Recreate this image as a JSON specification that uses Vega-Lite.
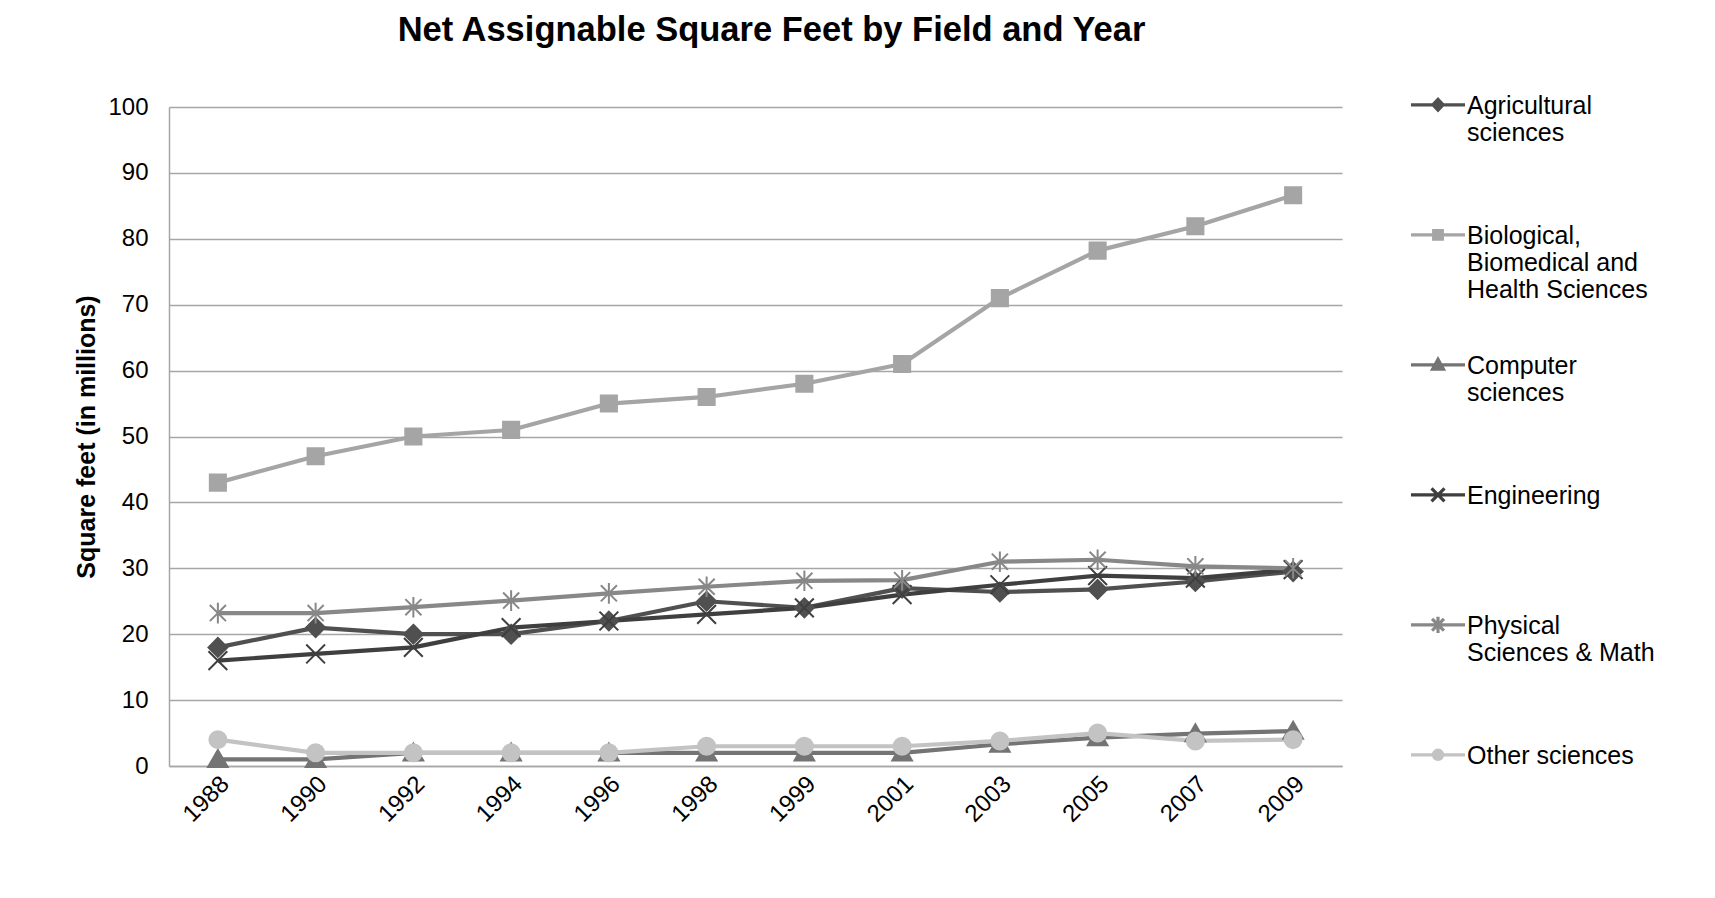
{
  "$schema": "https://vega.github.io/schema/vega-lite/v6.json",
  "autosize": "none",
  "padding": {"left": 169, "top": 107, "right": 373, "bottom": 132},
  "width": 1173,
  "height": 659,
  "background": "white",
  "config": {
    "font": "Liberation Sans",
    "view": {"stroke": null}
  },
  "title": {
    "text": "Net Assignable Square Feet by Field and Year",
    "fontSize": 34.5,
    "fontWeight": "bold",
    "color": "#000000",
    "anchor": "middle",
    "dx": 16,
    "offset": 17
  },
  "data": {
    "values": [
      {"year": "1988", "series": "Agricultural sciences", "value": 18},
      {"year": "1990", "series": "Agricultural sciences", "value": 21},
      {"year": "1992", "series": "Agricultural sciences", "value": 20},
      {"year": "1994", "series": "Agricultural sciences", "value": 20},
      {"year": "1996", "series": "Agricultural sciences", "value": 22},
      {"year": "1998", "series": "Agricultural sciences", "value": 25},
      {"year": "1999", "series": "Agricultural sciences", "value": 24},
      {"year": "2001", "series": "Agricultural sciences", "value": 27},
      {"year": "2003", "series": "Agricultural sciences", "value": 26.4},
      {"year": "2005", "series": "Agricultural sciences", "value": 26.8},
      {"year": "2007", "series": "Agricultural sciences", "value": 28},
      {"year": "2009", "series": "Agricultural sciences", "value": 29.5},
      {"year": "1988", "series": "Biological, Biomedical and Health Sciences", "value": 43},
      {"year": "1990", "series": "Biological, Biomedical and Health Sciences", "value": 47},
      {"year": "1992", "series": "Biological, Biomedical and Health Sciences", "value": 50},
      {"year": "1994", "series": "Biological, Biomedical and Health Sciences", "value": 51},
      {"year": "1996", "series": "Biological, Biomedical and Health Sciences", "value": 55},
      {"year": "1998", "series": "Biological, Biomedical and Health Sciences", "value": 56},
      {"year": "1999", "series": "Biological, Biomedical and Health Sciences", "value": 58},
      {"year": "2001", "series": "Biological, Biomedical and Health Sciences", "value": 61},
      {"year": "2003", "series": "Biological, Biomedical and Health Sciences", "value": 71},
      {"year": "2005", "series": "Biological, Biomedical and Health Sciences", "value": 78.2},
      {"year": "2007", "series": "Biological, Biomedical and Health Sciences", "value": 81.9},
      {"year": "2009", "series": "Biological, Biomedical and Health Sciences", "value": 86.6},
      {"year": "1988", "series": "Computer sciences", "value": 1},
      {"year": "1990", "series": "Computer sciences", "value": 1},
      {"year": "1992", "series": "Computer sciences", "value": 2},
      {"year": "1994", "series": "Computer sciences", "value": 2},
      {"year": "1996", "series": "Computer sciences", "value": 2},
      {"year": "1998", "series": "Computer sciences", "value": 2},
      {"year": "1999", "series": "Computer sciences", "value": 2},
      {"year": "2001", "series": "Computer sciences", "value": 2},
      {"year": "2003", "series": "Computer sciences", "value": 3.3},
      {"year": "2005", "series": "Computer sciences", "value": 4.3},
      {"year": "2007", "series": "Computer sciences", "value": 4.9},
      {"year": "2009", "series": "Computer sciences", "value": 5.3},
      {"year": "1988", "series": "Engineering", "value": 16},
      {"year": "1990", "series": "Engineering", "value": 17},
      {"year": "1992", "series": "Engineering", "value": 18},
      {"year": "1994", "series": "Engineering", "value": 21},
      {"year": "1996", "series": "Engineering", "value": 22},
      {"year": "1998", "series": "Engineering", "value": 23},
      {"year": "1999", "series": "Engineering", "value": 24},
      {"year": "2001", "series": "Engineering", "value": 26},
      {"year": "2003", "series": "Engineering", "value": 27.5},
      {"year": "2005", "series": "Engineering", "value": 28.9},
      {"year": "2007", "series": "Engineering", "value": 28.5},
      {"year": "2009", "series": "Engineering", "value": 29.8},
      {"year": "1988", "series": "Physical Sciences & Math", "value": 23.2},
      {"year": "1990", "series": "Physical Sciences & Math", "value": 23.2},
      {"year": "1992", "series": "Physical Sciences & Math", "value": 24.1},
      {"year": "1994", "series": "Physical Sciences & Math", "value": 25.1},
      {"year": "1996", "series": "Physical Sciences & Math", "value": 26.2},
      {"year": "1998", "series": "Physical Sciences & Math", "value": 27.2},
      {"year": "1999", "series": "Physical Sciences & Math", "value": 28.1},
      {"year": "2001", "series": "Physical Sciences & Math", "value": 28.2},
      {"year": "2003", "series": "Physical Sciences & Math", "value": 31},
      {"year": "2005", "series": "Physical Sciences & Math", "value": 31.3},
      {"year": "2007", "series": "Physical Sciences & Math", "value": 30.3},
      {"year": "2009", "series": "Physical Sciences & Math", "value": 30},
      {"year": "1988", "series": "Other sciences", "value": 4},
      {"year": "1990", "series": "Other sciences", "value": 2},
      {"year": "1992", "series": "Other sciences", "value": 2},
      {"year": "1994", "series": "Other sciences", "value": 2},
      {"year": "1996", "series": "Other sciences", "value": 2},
      {"year": "1998", "series": "Other sciences", "value": 3},
      {"year": "1999", "series": "Other sciences", "value": 3},
      {"year": "2001", "series": "Other sciences", "value": 3},
      {"year": "2003", "series": "Other sciences", "value": 3.8},
      {"year": "2005", "series": "Other sciences", "value": 5},
      {"year": "2007", "series": "Other sciences", "value": 3.8},
      {"year": "2009", "series": "Other sciences", "value": 4}
    ]
  },
  "encoding": {
    "x": {
      "field": "year",
      "type": "ordinal",
      "sort": null,
      "title": null,
      "axis": {
        "labelAngle": -45,
        "labelAlign": "right",
        "labelBaseline": "middle",
        "labelFontSize": 24,
        "labelColor": "#000000",
        "labelPadding": 14,
        "labelOffset": 7,
        "ticks": false,
        "domainColor": "#a6a6a6",
        "domainWidth": 1.5,
        "grid": false
      }
    },
    "y": {
      "field": "value",
      "type": "quantitative",
      "scale": {"domain": [0, 100], "nice": false},
      "title": "Square feet (in millions)",
      "axis": {
        "values": [0, 10, 20, 30, 40, 50, 60, 70, 80, 90, 100],
        "labelFontSize": 24,
        "labelColor": "#000000",
        "labelPadding": 21,
        "ticks": false,
        "domainColor": "#a6a6a6",
        "domainWidth": 1.5,
        "gridColor": "#a6a6a6",
        "gridWidth": 1.5,
        "titleFontSize": 25,
        "titleFontWeight": "bold",
        "titleColor": "#000000",
        "titlePadding": 8
      }
    }
  },
  "resolve": {"scale": {"color": "independent", "shape": "independent", "stroke": "independent"}},
  "layer": [
    {
      "mark": {"type": "line", "strokeWidth": 4.2, "strokeJoin": "round"},
      "encoding": {
        "stroke": {
          "field": "series",
          "type": "nominal",
          "scale": {
            "range": ["#505050", "#a5a5a5", "#747474", "#3f3f3f", "#c3c3c3", "#888888"]
          },
          "legend": null
        }
      }
    },
    {
      "mark": {"type": "point", "filled": true, "opacity": 1, "size": 320, "strokeWidth": 2},
      "encoding": {
        "stroke": {
          "field": "series",
          "type": "nominal",
          "scale": {
            "range": ["#505050", "#a5a5a5", "#747474", "#3f3f3f", "#c3c3c3", "#888888"]
          },
          "legend": null
        },
        "fill": {
          "field": "series",
          "type": "nominal",
          "scale": {
            "range": ["#505050", "#a5a5a5", "#747474", "#3f3f3f", "#c3c3c3", "#888888"]
          },
          "legend": null
        },
        "shape": {
          "field": "series",
          "type": "nominal",
          "scale": {
            "range": [
              "M0,-1.05L1.05,0L0,1.05L-1.05,0Z",
              "M-0.9,-0.9L0.9,-0.9L0.9,0.9L-0.9,0.9Z",
              "M0,-1.05L1.1,0.85L-1.1,0.85Z",
              "M-1.05,-1.05L1.05,1.05M-1.05,1.05L1.05,-1.05",
              "M-0.95,0A0.95,0.95,0,1,1,0.95,0A0.95,0.95,0,1,1,-0.95,0Z",
              "M-0.9,-0.9L0.9,0.9M-0.9,0.9L0.9,-0.9M0,-1.15L0,1.15"
            ]
          },
          "legend": null
        }
      }
    },
    {
      "mark": {"type": "point", "filled": true, "opacity": 0, "strokeWidth": 3.2},
      "encoding": {
        "color": {
          "field": "series",
          "type": "nominal",
          "scale": {
            "domain": ["Agricultural sciences", "Biological, Biomedical and Health Sciences", "Computer sciences", "Engineering", "Physical Sciences & Math", "Other sciences"],
            "range": ["#505050", "#a5a5a5", "#747474", "#3f3f3f", "#888888", "#c3c3c3"]
          },
          "legend": {
            "title": null,
            "orient": "none",
            "legendX": 1240,
            "legendY": -42,
            "padding": 0,
            "symbolSize": 2916,
            "symbolStrokeWidth": 3.2,
            "symbolOpacity": 1,
            "labelFontSize": 25,
            "labelColor": "#000000",
            "labelBaseline": "top",
            "labelOffset": 0,
            "labelLimit": 400,
            "rowPadding": 22,
            "labelExpr": "datum.value == 'Agricultural sciences' ? ['Agricultural','sciences',''] : datum.value == 'Biological, Biomedical and Health Sciences' ? ['Biological,','Biomedical and','Health Sciences'] : datum.value == 'Computer sciences' ? ['Computer','sciences',''] : datum.value == 'Engineering' ? ['Engineering','',''] : datum.value == 'Physical Sciences & Math' ? ['Physical','Sciences & Math',''] : ['Other sciences','','']"
          }
        },
        "stroke": {
          "field": "series",
          "type": "nominal",
          "scale": {
            "domain": ["Agricultural sciences", "Biological, Biomedical and Health Sciences", "Computer sciences", "Engineering", "Physical Sciences & Math", "Other sciences"],
            "range": ["#505050", "#a5a5a5", "#747474", "#3f3f3f", "#888888", "#c3c3c3"]
          },
          "legend": {
            "title": null,
            "orient": "none",
            "legendX": 1240,
            "legendY": -42,
            "padding": 0,
            "symbolSize": 2916,
            "symbolStrokeWidth": 3.2,
            "symbolOpacity": 1,
            "labelFontSize": 25,
            "labelColor": "#000000",
            "labelBaseline": "top",
            "labelOffset": 0,
            "labelLimit": 400,
            "rowPadding": 22,
            "labelExpr": "datum.value == 'Agricultural sciences' ? ['Agricultural','sciences',''] : datum.value == 'Biological, Biomedical and Health Sciences' ? ['Biological,','Biomedical and','Health Sciences'] : datum.value == 'Computer sciences' ? ['Computer','sciences',''] : datum.value == 'Engineering' ? ['Engineering','',''] : datum.value == 'Physical Sciences & Math' ? ['Physical','Sciences & Math',''] : ['Other sciences','','']"
          }
        },
        "shape": {
          "field": "series",
          "type": "nominal",
          "scale": {
            "domain": ["Agricultural sciences", "Biological, Biomedical and Health Sciences", "Computer sciences", "Engineering", "Physical Sciences & Math", "Other sciences"],
            "range": [
              "M-1,0.4L1,0.4M0,0.2L0.19,0.4L0,0.6L-0.19,0.4Z",
              "M-1,0.4L1,0.4M-0.16,0.24L0.16,0.24L0.16,0.56L-0.16,0.56Z",
              "M-1,0.4L1,0.4M0,0.2L0.2,0.56L-0.2,0.56Z",
              "M-1,0.4L1,0.4M-0.24,0.16L0.24,0.64M-0.24,0.64L0.24,0.16",
              "M-1,0.4L1,0.4M-0.22,0.18L0.22,0.62M-0.22,0.62L0.22,0.18M0,0.1L0,0.7",
              "M-1,0.4L1,0.4M-0.17,0.4A0.17,0.17,0,1,1,0.17,0.4A0.17,0.17,0,1,1,-0.17,0.4Z"
            ]
          },
          "legend": {
            "title": null,
            "orient": "none",
            "legendX": 1240,
            "legendY": -42,
            "padding": 0,
            "symbolSize": 2916,
            "symbolStrokeWidth": 3.2,
            "symbolOpacity": 1,
            "labelFontSize": 25,
            "labelColor": "#000000",
            "labelBaseline": "top",
            "labelOffset": 0,
            "labelLimit": 400,
            "rowPadding": 22,
            "labelExpr": "datum.value == 'Agricultural sciences' ? ['Agricultural','sciences',''] : datum.value == 'Biological, Biomedical and Health Sciences' ? ['Biological,','Biomedical and','Health Sciences'] : datum.value == 'Computer sciences' ? ['Computer','sciences',''] : datum.value == 'Engineering' ? ['Engineering','',''] : datum.value == 'Physical Sciences & Math' ? ['Physical','Sciences & Math',''] : ['Other sciences','','']"
          }
        }
      }
    }
  ]
}
